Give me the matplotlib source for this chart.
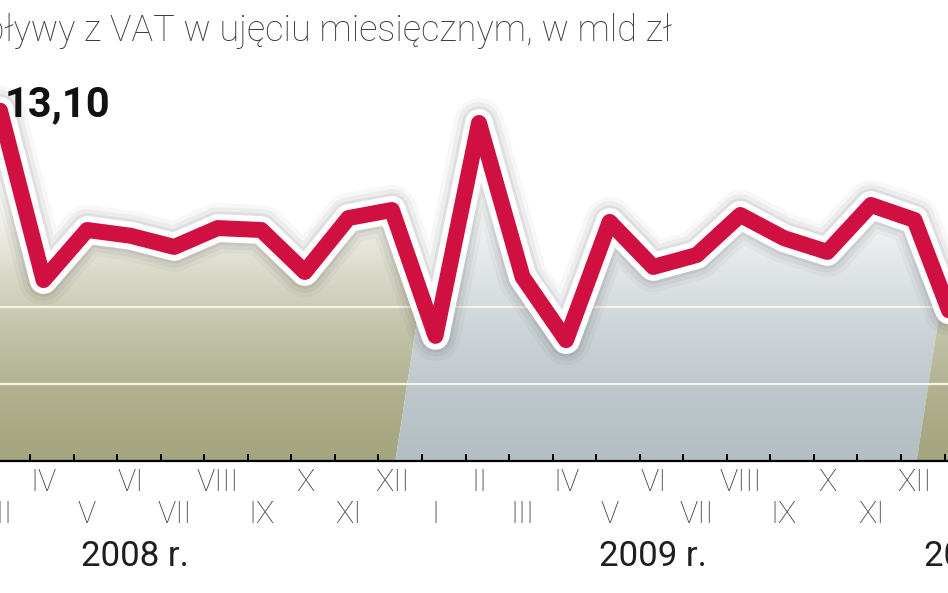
import numpy as np
import matplotlib.pyplot as plt
from matplotlib import patheffects as pe
from matplotlib.patches import Polygon

# VAT inflows, bln PLN, March 2008 .. January 2010
vat = [13.10, 8.70, 10.00, 9.85, 9.56, 10.05, 10.00, 8.91, 10.31, 10.52,
       7.25, 12.78, 8.78, 7.14, 10.21, 9.04, 9.35, 10.39, 9.79, 9.43, 10.65, 10.26,
       7.30]
months = ['III', 'IV', 'V', 'VI', 'VII', 'VIII', 'IX', 'X', 'XI', 'XII',
          'I', 'II', 'III', 'IV', 'V', 'VI', 'VII', 'VIII', 'IX', 'X', 'XI', 'XII',
          'I']
years = ['2008 r.', '2009 r.', '2010 r.']
year_pos = [5.1, 17.0, 24.45]
peak_label = '13,10'

x = np.arange(len(vat)) + 2   # month index, Jan 2008 = 0
ymin, ymax = 4, 4 + 461 / 38.5
xmin, xmax = 2.0, 23.77

fig = plt.figure(figsize=(9.48, 5.93), dpi=100)
ax = fig.add_axes([0, 1 - 461 / 593, 1, 461 / 593])

# background bands per year, slanted edges, vertical gradient
slant = 0.136
edges = [xmin - 3, 11.08, 23.05, xmax + 3]
band_cols = [(165, 165, 128), (180, 191, 196), (165, 165, 128)]
vv = np.linspace(ymin, ymax, 300)
t = np.clip((vv - 4) / 7, 0, 1) ** 1.5
for k, c in enumerate(band_cols):
    c = np.array(c) / 255
    grad = c[None, :] * (1 - t[:, None]) + t[:, None]
    grad = grad[:, None, :]
    x0, x1 = edges[k], edges[k + 1]
    dy = ymax - ymin
    poly = Polygon([(x0, ymin), (x0 + slant * dy, ymax), (x1 + slant * dy, ymax), (x1, ymin)],
                   closed=True, transform=ax.transData)
    im = ax.imshow(grad, extent=(x0, x1 + slant * dy, ymin, ymax), origin='lower',
                   aspect='auto', zorder=1, interpolation='bilinear')
    im.set_clip_path(poly)

for g in (6, 8):
    ax.axhline(g, color='#f6f4e6', lw=1.6, zorder=2)

# white area above the line
ax.fill_between(x, vat, ymax + 1, color='white', zorder=3, lw=0)

ax.plot(x, vat, color='#d01040', lw=11.5, solid_joinstyle='round', solid_capstyle='round',
        zorder=5,
        path_effects=[pe.Stroke(linewidth=36, foreground='black', alpha=0.03),
                      pe.Stroke(linewidth=30, foreground='black', alpha=0.045),
                      pe.Stroke(linewidth=24, foreground='black', alpha=0.06),
                      pe.Stroke(linewidth=20, foreground='white'),
                      pe.Normal()])

ax.annotate(peak_label, xy=(x[0], vat[0]), xytext=(5, 6), textcoords='offset pixels',
            ha='left', va='center', fontsize=30, fontweight='bold', color='#111111',
            family='Roboto', zorder=6)

ax.set_xlim(xmin, xmax)
ax.set_ylim(ymin, ymax)
for s in ('top', 'left', 'right'):
    ax.spines[s].set_visible(False)
ax.spines['bottom'].set_linewidth(1.6)
ax.spines['bottom'].set_zorder(6)
ax.set_yticks([])
ax.set_xticks(np.arange(2, 24) + 0.69)
ax.set_xticklabels([])
ax.tick_params(axis='x', direction='in', length=5, width=1.4, color='black')

tr = ax.get_xaxis_transform()
for xi, m in zip(x, months):
    if xi > xmax + 0.5:
        continue
    yrow = -0.0456 if xi % 2 == 1 else -0.117
    ax.text(xi, yrow, m, transform=tr, ha='center', va='center', fontsize=22,
            family='Roboto', fontweight='light', color='#3c3c3c', clip_on=False)
for xp, yl in zip(year_pos, years):
    ax.text(xp, -0.208, yl, transform=tr, ha='center', va='center', fontsize=25,
            family='Roboto', color='#1e1e1e', clip_on=False)

fig.text(672 / 948, 1 - 41 / 593, 'Wpływy z VAT w ujęciu miesięcznym, w mld zł',
         ha='right', va='baseline', fontsize=26, family='Roboto', fontweight='light',
         color='#3a3a3a')

fig.savefig('out.png', dpi=100)
